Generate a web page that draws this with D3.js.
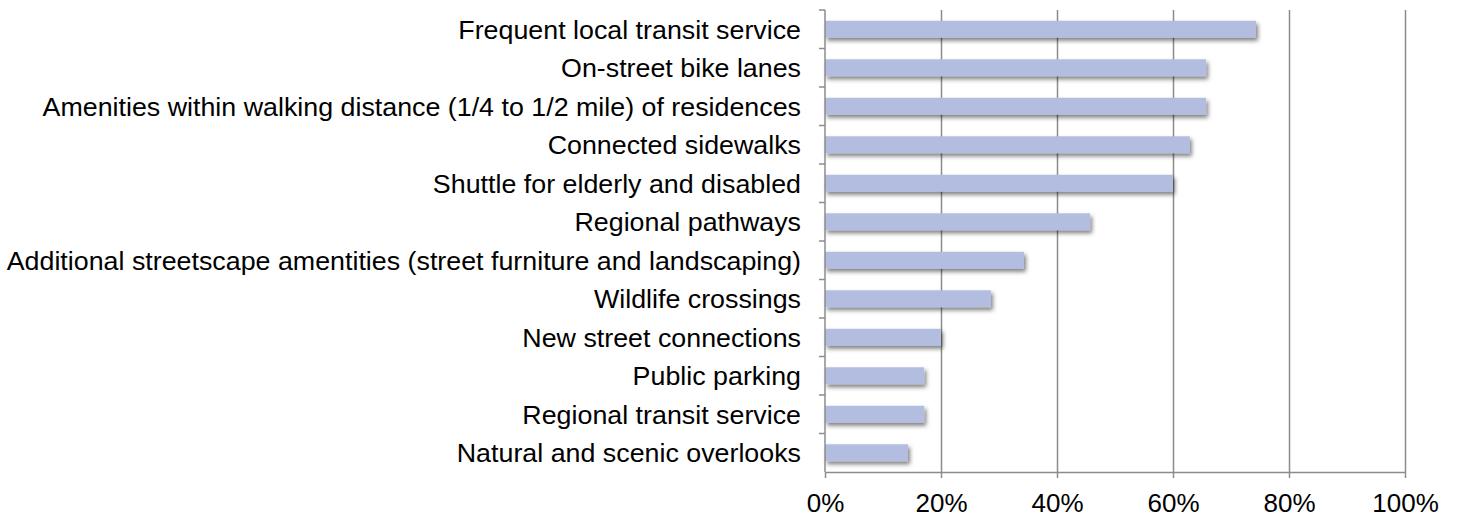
<!DOCTYPE html>
<head>
<meta charset="utf-8">
<script src="https://cdn.jsdelivr.net/npm/d3@7"></script>
<style>
body { margin: 0; background: #fff; font-family: "Liberation Sans", Arial, sans-serif; }
.axis path, .axis line { stroke: #8c8c8c; stroke-width: 1.5; fill: none; }
.grid line { stroke: #8c8c8c; stroke-width: 1.5; }
.grid path { stroke-width: 0; }
</style>
</head>
<body>
<div id="chart"></div>
<script>
// categories, top to bottom
var categories = [
  "Frequent local transit service",
  "On-street bike lanes",
  "Amenities within walking distance (1/4 to 1/2 mile) of residences",
  "Connected sidewalks",
  "Shuttle for elderly and disabled",
  "Regional pathways",
  "Additional streetscape amentities (street furniture and landscaping)",
  "Wildlife crossings",
  "New street connections",
  "Public parking",
  "Regional transit service",
  "Natural and scenic overlooks"
];
// share of respondents
var values = [0.743, 0.657, 0.657, 0.629, 0.600, 0.457, 0.343, 0.286, 0.200, 0.171, 0.171, 0.143];
var xTicks = [0, 0.2, 0.4, 0.6, 0.8, 1.0];

var margin = {top: 10, right: 55, bottom: 45, left: 825},
    width = 1460 - margin.left - margin.right,
    height = 517 - margin.top - margin.bottom;

var svg = d3.select("#chart").append("svg")
    .attr("width", 1460)
    .attr("height", 517)
  .append("g")
    .attr("transform", "translate(" + margin.left + "," + margin.top + ")");

// drop shadow for the bars
var f = svg.append("defs").append("filter")
    .attr("id", "shadow")
    .attr("x", "-5%").attr("y", "-40%")
    .attr("width", "115%").attr("height", "200%");
f.append("feDropShadow")
    .attr("dx", 2).attr("dy", 3)
    .attr("stdDeviation", 2.2)
    .attr("flood-color", "#000")
    .attr("flood-opacity", 0.5);

var x = d3.scaleLinear().domain([0, 1]).range([0, width]);
var y = d3.scaleBand().domain(categories).range([0, height]).paddingInner(0.56).paddingOuter(0.28);
var yb = d3.scaleBand().domain(categories).range([0, height]);

// vertical gridlines
svg.append("g")
    .attr("class", "grid")
    .call(d3.axisBottom(x).tickValues(xTicks.slice(1)).tickSize(height).tickFormat(""));

// bars
svg.selectAll(".bar")
    .data(categories)
  .enter().append("rect")
    .attr("class", "bar")
    .attr("x", 0)
    .attr("y", function(d) { return y(d); })
    .attr("width", function(d, i) { return x(values[i]); })
    .attr("height", y.bandwidth())
    .attr("fill", "#b3bde0")
    .attr("filter", "url(#shadow)");

// x axis
var xa = svg.append("g")
    .attr("class", "axis")
    .attr("transform", "translate(0," + height + ")")
    .call(d3.axisBottom(x).tickValues(xTicks).tickSize(6).tickSizeOuter(0).tickPadding(16).tickFormat(d3.format(".0%")));
xa.selectAll("text")
    .style("font-family", "'Liberation Sans', Arial, sans-serif")
    .style("font-size", "26px")
    .attr("fill", "#000");

// y axis with ticks at category boundaries
var ya = svg.append("g").attr("class", "axis");
ya.append("line").attr("x1", 0).attr("x2", 0).attr("y1", 0).attr("y2", height);
ya.selectAll(".tk")
    .data(categories)
  .enter().append("line")
    .attr("x1", -6).attr("x2", 0)
    .attr("y1", function(d) { return yb(d); })
    .attr("y2", function(d) { return yb(d); });

// category labels (slightly widened like the original)
var sx = 1.06;
svg.append("g")
    .attr("transform", "scale(" + sx + ",1)")
  .selectAll(".lbl")
    .data(categories)
  .enter().append("text")
    .attr("x", -24 / sx)
    .attr("y", function(d) { return yb(d) + yb.bandwidth() / 2; })
    .attr("dy", "0.38em")
    .attr("text-anchor", "end")
    .style("font-size", "25.3px")
    .attr("fill", "#000")
    .text(function(d) { return d; });
</script>
</body>
